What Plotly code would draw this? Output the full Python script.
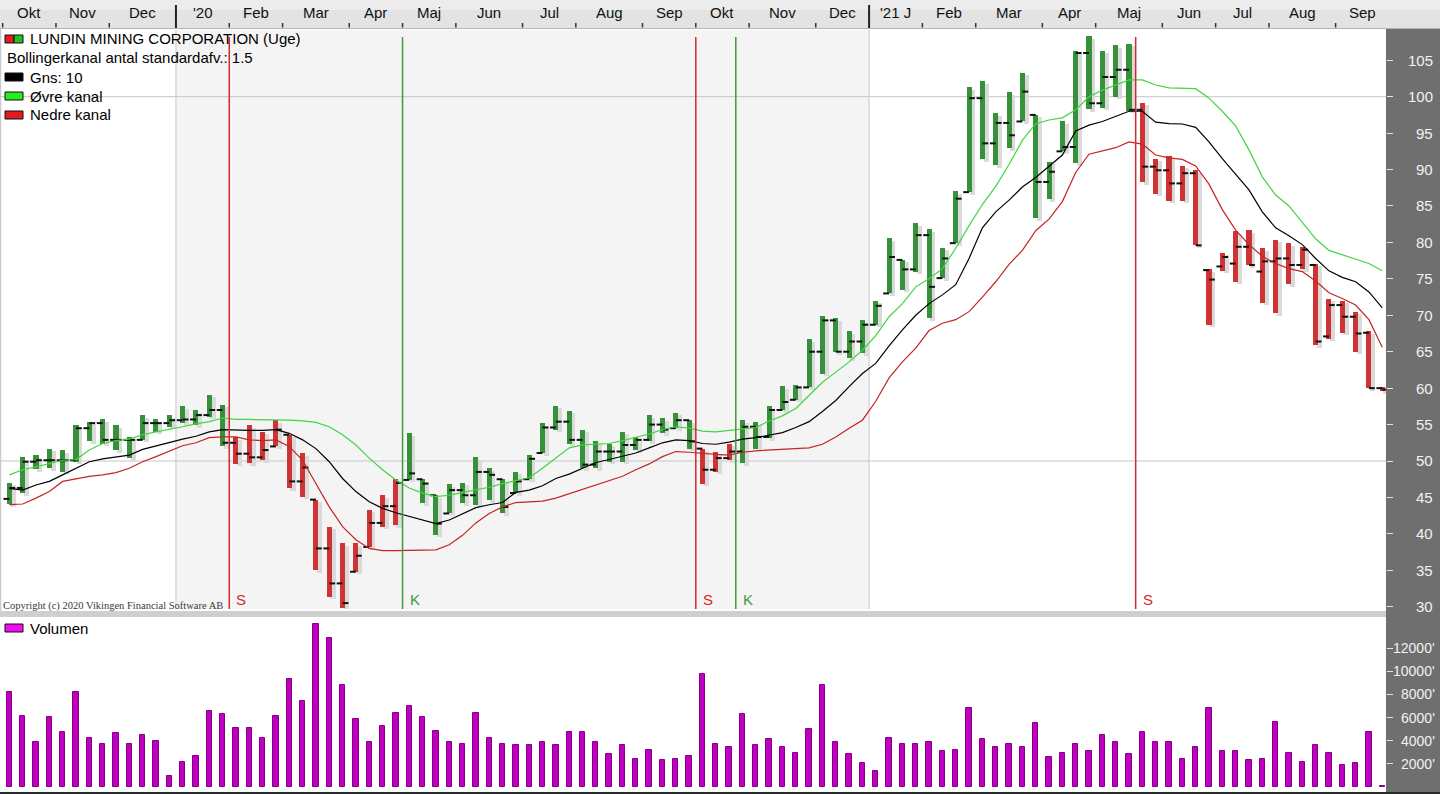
import pandas as pd
import plotly.graph_objects as go

# ---------------- data ----------------
title_text = "LUNDIN MINING CORPORATION (Uge)"
week_start = "2019-10-07"
n_weeks = 104

open_ = [44.8, 46.3, 49.9, 50.1, 50.1, 50.1, 54.5, 55.2, 52.9, 52.9,
         52.9, 55.2, 55.2, 55.6, 55.7, 56.3, 57.0, 52.5, 51.0, 50.5,
         52.0, 53.6, 47.2, 44.7, 38.0, 33.2, 34.8, 38.2, 41.5, 43.8,
         47.4, 47.5, 45.3, 42.8, 46.0, 45.3, 48.5, 47.5, 45.6, 47.5,
         51.1, 54.6, 55.4, 52.9, 49.5, 51.3, 51.3, 52.2, 52.9, 55.0,
         54.5, 55.6, 51.7, 48.8, 50.4, 51.3, 54.7, 53.3, 57.0, 58.4,
         60.1, 65.0, 69.3, 65.0, 66.4, 68.7, 73.0, 77.6, 76.3, 81.0,
         75.1, 79.9, 86.9, 99.8, 93.6, 96.4, 96.6, 97.5, 88.3, 92.5,
         93.1, 106.0, 99.1, 102.7, 103.7, 98.2, 90.4, 89.9, 88.1, 89.5,
         76.2, 76.7, 77.1, 79.4, 76.0, 77.4, 77.8, 76.9, 76.9, 67.1,
         71.4, 69.8, 67.6, 60.0]
high = [47.0, 50.5, 50.8, 51.7, 51.5, 54.9, 55.4, 55.7, 54.9, 53.3,
        56.3, 55.7, 56.3, 57.5, 57.0, 59.1, 57.7, 53.3, 54.9, 54.0,
        55.6, 53.6, 51.1, 44.7, 41.0, 38.7, 38.7, 43.3, 45.3, 47.5,
        53.8, 47.5, 45.3, 46.8, 47.0, 50.5, 49.0, 47.5, 48.5, 50.8,
        55.2, 57.6, 56.9, 54.3, 52.7, 52.4, 54.0, 53.3, 56.3, 55.9,
        56.6, 55.6, 51.7, 51.3, 52.4, 55.6, 55.3, 57.5, 60.3, 60.4,
        66.7, 69.9, 69.6, 67.8, 69.4, 72.0, 80.6, 77.6, 82.6, 81.8,
        79.3, 87.0, 101.3, 102.1, 97.7, 100.6, 103.3, 97.5, 91.1, 96.6,
        106.3, 108.3, 106.3, 107.1, 107.3, 99.2, 91.5, 91.9, 90.5, 89.9,
        76.3, 78.6, 81.5, 81.7, 79.2, 80.4, 79.9, 79.4, 77.1, 72.3,
        72.0, 70.5, 67.8, 60.2]
low = [44.1, 45.6, 48.9, 49.0, 48.5, 49.9, 52.7, 52.4, 51.5, 50.4,
       52.9, 54.0, 54.7, 55.2, 54.9, 56.1, 52.0, 49.6, 49.7, 50.1,
       52.0, 46.3, 45.1, 35.0, 31.4, 29.8, 34.8, 38.2, 41.0, 41.2,
       47.4, 44.2, 39.9, 42.8, 44.2, 44.0, 44.6, 42.8, 45.6, 47.5,
       51.1, 54.3, 52.4, 49.0, 49.0, 49.9, 49.9, 51.5, 52.7, 53.8,
       54.5, 51.7, 46.9, 48.5, 50.1, 49.7, 51.7, 53.1, 57.0, 58.4,
       60.1, 62.0, 64.9, 64.1, 64.8, 68.7, 73.0, 73.5, 76.0, 69.6,
       75.1, 79.9, 86.9, 91.4, 90.6, 92.9, 96.6, 83.3, 85.9, 92.5,
       90.9, 98.3, 98.5, 100.0, 98.1, 88.3, 86.7, 85.7, 85.7, 79.6,
       68.7, 76.1, 74.6, 76.9, 71.7, 70.3, 74.3, 76.3, 65.9, 66.8,
       67.6, 65.0, 60.0, 59.6]
close = [46.3, 49.9, 50.1, 50.1, 50.1, 54.5, 55.2, 52.9, 52.9, 52.9,
         55.2, 55.2, 55.6, 55.7, 56.3, 57.0, 52.5, 51.0, 50.5, 51.5,
         54.3, 47.2, 49.1, 38.0, 33.2, 30.5, 37.0, 41.5, 43.8, 47.0,
         48.3, 46.9, 41.4, 46.0, 45.3, 48.5, 48.1, 43.7, 47.2, 50.3,
         54.6, 55.4, 52.9, 49.5, 51.3, 51.3, 52.2, 52.9, 55.0, 54.3,
         55.6, 52.7, 48.8, 50.4, 51.3, 54.7, 53.3, 57.0, 58.1, 60.1,
         65.0, 69.3, 65.0, 66.4, 68.7, 71.3, 78.0, 76.3, 81.0, 73.9,
         77.8, 86.0, 99.8, 93.6, 96.4, 94.7, 100.7, 88.3, 89.7, 93.1,
         106.0, 99.1, 102.7, 103.7, 98.2, 90.4, 89.9, 88.1, 89.5, 79.6,
         74.9, 78.0, 79.4, 76.9, 77.4, 77.8, 76.9, 79.0, 66.4, 71.4,
         69.8, 67.5, 60.0, 59.8]

upper_band = [48.1, 48.8, 49.2, 49.7, 50.1, 50.2, 51.5, 52.4, 52.8, 53.0,
              53.6, 54.0, 54.3, 54.7, 55.1, 55.4, 55.9, 55.7, 55.7, 55.7,
              55.7, 55.6, 55.5, 55.3, 54.7, 53.6, 52.2, 50.4, 48.8, 47.4,
              46.3, 45.6, 45.1, 45.3, 45.7, 46.0, 46.4, 46.9, 47.3, 47.7,
              49.0, 50.4, 51.8, 52.2, 52.3, 52.4, 52.8, 53.2, 53.7, 54.3,
              54.7, 54.5, 54.1, 54.0, 54.2, 54.3, 54.6, 55.5, 56.2, 57.2,
              59.0, 60.8, 62.2, 63.6, 65.2, 67.2, 69.8, 71.6, 73.9, 75.0,
              76.4, 79.2, 82.3, 85.2, 87.7, 90.7, 94.0, 96.3, 96.8, 97.1,
              98.2, 100.0, 100.9, 101.6, 102.3, 102.3, 101.6, 101.2, 101.2, 101.1,
              99.8, 98.0, 96.0, 92.7, 89.0, 86.5, 85.0, 82.8, 80.5, 78.9,
              78.3, 77.8, 77.1, 76.1]
middle_band = [46.25, 46.0, 46.7, 47.2, 48.1, 49.0, 49.9, 50.3, 50.6, 50.8,
               51.6, 52.1, 52.5, 53.0, 53.4, 54.0, 54.3, 54.2, 54.2, 54.2,
               54.3, 53.8, 52.9, 51.7, 49.9, 47.6, 45.8, 44.4, 43.5, 42.9,
               42.4, 41.8, 41.4, 41.9, 42.8, 43.6, 44.0, 44.3, 45.7, 46.0,
               46.6, 47.6, 48.2, 49.0, 49.8, 50.2, 50.6, 51.1, 51.8, 52.5,
               52.9, 52.8, 52.4, 52.3, 52.6, 53.0, 53.2, 53.5, 53.9, 54.6,
               55.4, 56.8, 58.3, 60.2, 62.0, 63.4, 65.8, 68.0, 70.0, 71.6,
               72.8, 74.2, 77.8, 82.0, 84.2, 85.8, 87.6, 88.9, 90.4, 92.0,
               95.3, 96.1, 96.6, 97.3, 98.0, 98.0, 96.5, 96.3, 96.25, 95.8,
               93.8, 91.5, 89.4, 87.2, 84.2, 82.0, 80.9, 79.7, 77.8, 76.1,
               75.2, 74.6, 73.2, 71.0]
lower_band = [44.0, 44.1, 44.9, 45.8, 47.2, 47.6, 47.9, 48.1, 48.4, 49.0,
              49.9, 50.6, 51.4, 52.1, 52.5, 53.2, 53.3, 53.3, 52.9, 52.8,
              52.9, 52.0, 50.1, 46.9, 43.7, 41.0, 39.2, 38.0, 37.7, 37.7,
              37.7, 37.7, 37.8, 38.5, 39.8, 41.5, 42.8, 43.7, 44.3, 44.4,
              44.5, 44.9, 45.5, 46.2, 46.8, 47.3, 47.9, 48.8, 49.6, 50.6,
              51.3, 51.2, 51.0, 50.9, 50.8, 51.2, 51.4, 51.5, 51.6, 51.7,
              51.8, 52.3, 53.3, 54.5, 55.6, 58.2, 61.4, 63.6, 65.5, 67.9,
              68.9, 69.4, 70.5, 72.5, 74.6, 77.0, 78.9, 81.6, 83.2, 85.6,
              89.6, 92.1, 92.5, 93.0, 93.8, 93.5, 92.0, 91.6, 91.4, 90.5,
              88.0, 84.5, 81.7, 79.7, 78.1, 77.1, 76.4, 76.0, 74.7, 73.1,
              72.3, 71.4, 69.4, 65.6]

volume = [8180, 6140, 3860, 6020, 4760, 8180, 4240, 3720, 4640, 3720,
          4500, 3980, 920, 2190, 2680, 6540, 6280, 5130, 5130, 4240,
          6140, 9340, 7440, 14060, 12910, 8820, 5880, 3860, 5240, 6400,
          7030, 6020, 4870, 3860, 3720, 6400, 4240, 3720, 3600, 3600,
          3860, 3600, 4760, 4760, 3860, 2820, 3600, 2450, 3230, 2310,
          2450, 2710, 9740, 3720, 3460, 6280, 3600, 4120, 3460, 2970,
          5010, 8820, 3860, 2820, 2050, 1410, 4240, 3720, 3720, 3860,
          3080, 3230, 6800, 4120, 3460, 3720, 3460, 5500, 2560, 2970,
          3720, 3080, 4500, 3860, 2820, 4760, 3860, 3860, 2450, 3460,
          6800, 3080, 3080, 2310, 2450, 5650, 2970, 2190, 3600, 2970,
          1930, 2050, 4760, 80]

signal_weeks = [17, 30, 52, 55, 85]
signal_types = ["S", "K", "S", "K", "S"]

month_labels = ["Okt", "Nov", "Dec", "'20", "Feb", "Mar", "Apr", "Maj", "Jun",
                "Jul", "Aug", "Sep", "Okt", "Nov", "Dec", "'21 J", "Feb", "Mar",
                "Apr", "Maj", "Jun", "Jul", "Aug", "Sep"]
price_ticks = [30, 35, 40, 45, 50, 55, 60, 65, 70, 75, 80, 85, 90, 95, 100, 105]
volume_ticks = [2000, 4000, 6000, 8000, 10000, 12000]
grid_prices = [50, 100]

# ---------------- styling / geometry ----------------
W, H = 1440, 794
FONT = "Liberation Sans, Arial, sans-serif"
GREEN_BAR = "#37903a"
RED_BAR = "#cf3434"
SHADOW = "#dadada"
UPPER_C = "#3fd63f"
MID_C = "#000000"
LOWER_C = "#c42424"
VOL_C = "#c000c0"
VOL_LINE = "#850085"
AXIS_BG = "#6f6f6f"
AXIS_TXT = "#f2f2f2"


def py(px):
    return 1 - px / H


def ppx(px):
    return px / W


PLOT_R = 1386
X_RANGE = [-0.70, 103.28]
MAIN_TOP, MAIN_BOT = 30, 609
VOL_TOP, VOL_BOT = 617, 790
Y_RANGE = [100 - (MAIN_BOT - 96.7) / 7.286, 100 - (MAIN_TOP - 96.7) / 7.286]
V_RANGE = [(787 - VOL_BOT) * 1000 / 11.57, (787 - VOL_TOP) * 1000 / 11.57]

dates = pd.date_range(week_start, periods=n_weeks, freq="7D")
idx = list(range(n_weeks))
date_txt = [d.strftime("%Y-%m-%d") for d in dates]

# regime colours from signals
colors = []
state = "K"
sig_map = dict(zip(signal_weeks, signal_types))
for i in idx:
    if i in sig_map:
        state = sig_map[i]
    colors.append(GREEN_BAR if state == "K" else RED_BAR)

bar_w = 0.38
ranges = [h - l for h, l in zip(high, low)]
fig = go.Figure()

# shadows
fig.add_trace(go.Bar(
    x=idx, y=ranges, base=[l - 0.35 for l in low],
    width=bar_w, offset=-bar_w / 2 + 0.28, marker=dict(color=SHADOW, line=dict(width=0)),
    textposition="none", hoverinfo="skip", showlegend=False, xaxis="x", yaxis="y"))
# price bars
fig.add_trace(go.Bar(
    x=idx, y=ranges, base=low, width=bar_w,
    marker=dict(color=colors, line=dict(width=0)),
    hovertext=[f"{d}<br>O {o}  H {h}  L {l}  C {c}" for d, o, h, l, c in
               zip(date_txt, open_, high, low, close)],
    hoverinfo="text", textposition="none", showlegend=False,
    xaxis="x", yaxis="y"))

# open / close ticks
ox, oy, cx, cy = [], [], [], []
for i in idx:
    ox += [i - 0.44, i, None]
    oy += [open_[i], open_[i], None]
    cx += [i, i + 0.44, None]
    cy += [close[i], close[i], None]
fig.add_trace(go.Scatter(x=ox + cx, y=oy + cy, mode="lines",
                         line=dict(color="#111111", width=2), hoverinfo="skip",
                         showlegend=False, xaxis="x", yaxis="y"))

# bands
for vals, col in [(upper_band, UPPER_C), (lower_band, LOWER_C), (middle_band, MID_C)]:
    fig.add_trace(go.Scatter(x=idx, y=vals, mode="lines", line=dict(color=col, width=1.2),
                             hoverinfo="skip", showlegend=False, xaxis="x", yaxis="y"))

# volume
fig.add_trace(go.Bar(x=idx, y=volume, width=0.4,
                     marker=dict(color=VOL_C, line=dict(color=VOL_LINE, width=1)),
                     textposition="none", showlegend=False, xaxis="x", yaxis="y2",
                     hovertemplate="%{y}<extra>Volumen</extra>"))

shapes = []
annotations = []

# backgrounds / frame
shapes.append(dict(type="rect", xref="paper", yref="paper", x0=0, x1=1, y0=py(28), y1=py(0),
                   fillcolor="#e3e3e3", line=dict(width=0), layer="below"))
shapes.append(dict(type="rect", xref="paper", yref="paper", x0=0, x1=1, y0=py(10), y1=py(0),
                   fillcolor="#ececec", line=dict(width=0), layer="below"))
shapes.append(dict(type="line", xref="paper", yref="paper", x0=0, x1=1, y0=py(28.5), y1=py(28.5),
                   line=dict(color="#b4b4b4", width=1)))
shapes.append(dict(type="rect", xref="paper", yref="paper", x0=ppx(PLOT_R), x1=1, y0=0, y1=py(29),
                   fillcolor=AXIS_BG, line=dict(width=0), layer="below"))
shapes.append(dict(type="rect", xref="paper", yref="paper", x0=0, x1=ppx(PLOT_R), y0=py(617), y1=py(611),
                   fillcolor="#cfcfcf", line=dict(width=0)))
shapes.append(dict(type="rect", xref="paper", yref="paper", x0=0, x1=1, y0=0, y1=py(792),
                   fillcolor="#2a2a2a", line=dict(width=0)))
shapes.append(dict(type="line", xref="paper", yref="paper", x0=0.0005, x1=0.0005, y0=py(611), y1=py(29),
                   line=dict(color="#bdbdbd", width=1)))

# 2020 shading and year grid lines
first_2020 = next(i for i, d in enumerate(dates) if d.year == 2020)
first_2021 = next(i for i, d in enumerate(dates) if d.year == 2021)
shapes.append(dict(type="rect", xref="x", yref="y domain", x0=first_2020 - 0.5, x1=first_2021 - 0.5,
                   y0=0, y1=1, fillcolor="#f4f4f4", line=dict(width=0), layer="below"))
for b in [first_2020 - 0.5, first_2021 - 0.5]:
    shapes.append(dict(type="line", xref="x", yref="y domain", x0=b, x1=b, y0=0, y1=1,
                       line=dict(color="#c6c6c6", width=1), layer="below"))
for g in grid_prices:
    shapes.append(dict(type="line", xref="x domain", yref="y", x0=0, x1=1, y0=g, y1=g,
                       line=dict(color="#c6c6c6", width=1), layer="below"))

# signals
for w, t in zip(signal_weeks, signal_types):
    col = "#d22a2a" if t == "S" else "#3d9a3d"
    shapes.append(dict(type="line", xref="x", yref="paper", x0=w - 0.5, x1=w - 0.5,
                       y0=py(MAIN_BOT), y1=py(37), line=dict(color=col, width=1.5)))
    annotations.append(dict(x=w - 0.5, y=py(599), xref="x", yref="paper", text=t,
                            showarrow=False, xanchor="left", yanchor="middle", xshift=5,
                            font=dict(family=FONT, size=15, color=col)))

# top month strip
month_groups = {}
order = []
for i, d in enumerate(dates):
    key = (d.year, d.month)
    if key not in month_groups:
        month_groups[key] = []
        order.append(key)
    month_groups[key].append(i)
for lab, key in zip(month_labels, order):
    members = month_groups[key]
    centre = (members[0] + members[-1]) / 2
    annotations.append(dict(x=centre, y=py(12), xref="x", yref="paper", text=lab, showarrow=False,
                            xanchor="center", yanchor="middle",
                            font=dict(family=FONT, size=15, color="#111111")))
    b = members[0] - 0.5
    if key[1] == 1:
        shapes.append(dict(type="line", xref="x", yref="paper", x0=b, x1=b, y0=py(28), y1=py(5),
                           line=dict(color="#222222", width=2)))
    else:
        shapes.append(dict(type="line", xref="x", yref="paper", x0=b, x1=b, y0=py(27.5), y1=py(23),
                           line=dict(color="#333333", width=1.5)))

# right axis labels
for t in price_ticks:
    annotations.append(dict(x=ppx(1435), y=t, xref="paper", yref="y", text=str(t), showarrow=False,
                            xanchor="right", yanchor="middle",
                            font=dict(family=FONT, size=15, color=AXIS_TXT)))
for t in volume_ticks:
    annotations.append(dict(x=ppx(1437), y=t, xref="paper", yref="y2", text=f"{t}'", showarrow=False,
                            xanchor="right", yanchor="middle",
                            font=dict(family=FONT, size=14, color=AXIS_TXT)))

# legend block
legend_rows = [
    (39, title_text, [("#e02020", 5, 14), ("#20c020", 14, 23)]),
    (58, "Bollingerkanal antal standardafv.: 1.5", []),
    (77, "Gns: 10", [("#000000", 5, 23)]),
    (96, "Øvre kanal", [("#22ee22", 5, 23)]),
    (115, "Nedre kanal", [("#e01e1e", 5, 23)]),
    (628, "Volumen", [("#ee10ee", 5, 23)]),
]
for ypx, txt, icons in legend_rows:
    for col, x0, x1 in icons:
        shapes.append(dict(type="rect", xref="paper", yref="paper", x0=ppx(x0), x1=ppx(x1),
                           y0=py(ypx + 4), y1=py(ypx - 4), fillcolor=col,
                           line=dict(color="#111111", width=1)))
    annotations.append(dict(x=ppx(28 if icons else 5), y=py(ypx), xref="paper", yref="paper",
                            text=txt, showarrow=False, xanchor="left", yanchor="middle",
                            font=dict(family=FONT, size=15, color="#000000")))

annotations.append(dict(x=ppx(1), y=py(606), xref="paper", yref="paper",
                        text="Copyright (c) 2020 Vikingen Financial Software AB", showarrow=False,
                        xanchor="left", yanchor="middle",
                        font=dict(family="Liberation Serif, Times New Roman, serif", size=10.5,
                                  color="#3a3a3a")))

fig.update_layout(
    width=W, height=H, autosize=False,
    margin=dict(l=0, r=0, t=0, b=0, pad=0),
    paper_bgcolor="white", plot_bgcolor="rgba(0,0,0,0)",
    barmode="overlay", bargap=0, showlegend=False,
    shapes=shapes, annotations=annotations,
    xaxis=dict(domain=[0, ppx(PLOT_R)], range=X_RANGE, showgrid=False, zeroline=False,
               showticklabels=False, ticks="", showline=False, anchor="y", fixedrange=True),
    yaxis=dict(domain=[py(MAIN_BOT), py(MAIN_TOP)], range=Y_RANGE, side="right",
               tickvals=price_ticks, showticklabels=False, ticks="outside", ticklen=6,
               tickcolor="#e6e6e6", tickwidth=1, showgrid=False, zeroline=False,
               showline=False, anchor="x", fixedrange=True),
    yaxis2=dict(domain=[py(VOL_BOT), py(VOL_TOP)], range=V_RANGE, side="right",
                tickvals=volume_ticks, showticklabels=False, ticks="outside", ticklen=6,
                tickcolor="#e6e6e6", tickwidth=1, showgrid=False, zeroline=False,
                showline=False, anchor="x", fixedrange=True),
)

fig.write_html("out.html", config={"displayModeBar": False},
               post_script="document.body.style.margin='0';")
